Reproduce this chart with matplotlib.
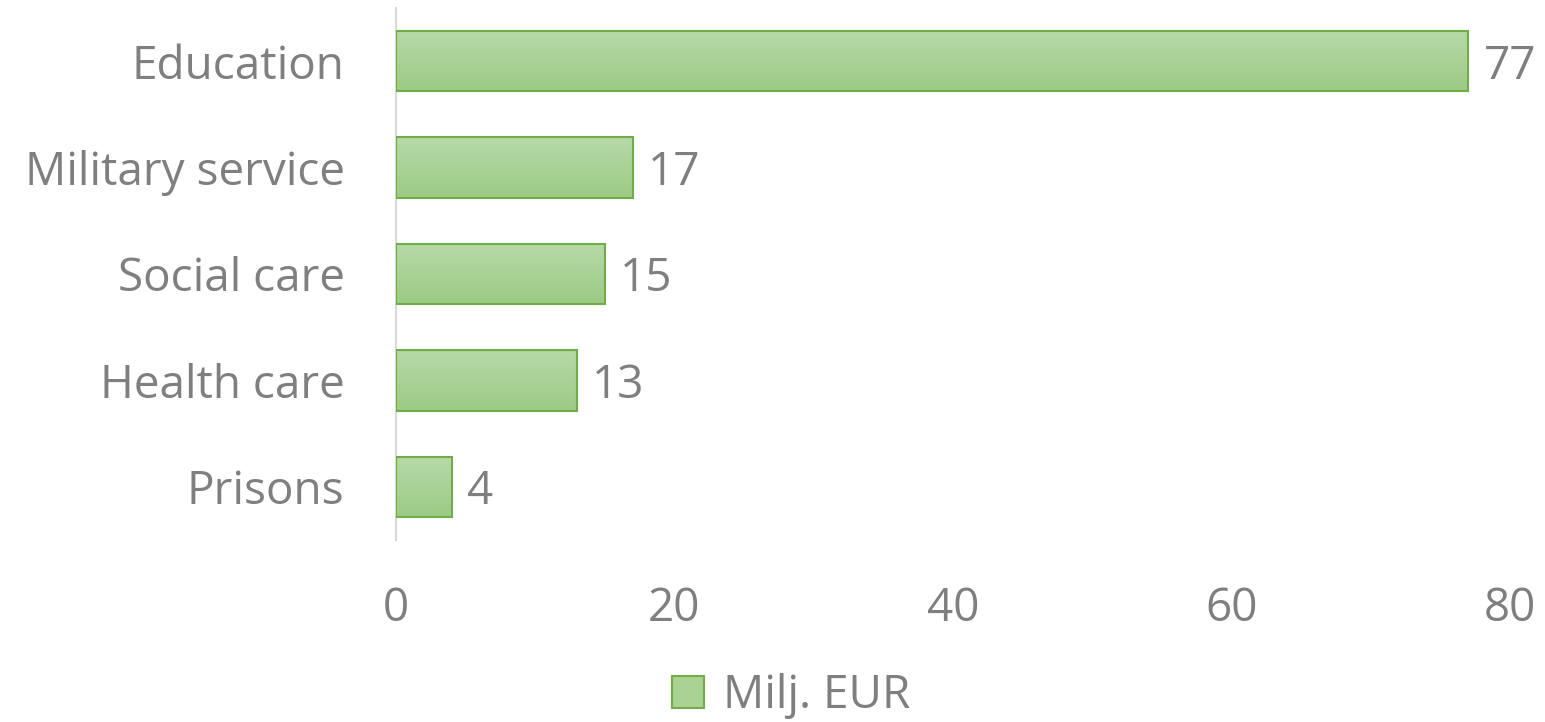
import numpy as np
import matplotlib.pyplot as plt
from matplotlib.colors import LinearSegmentedColormap
from matplotlib.patches import Patch

categories = ['Education', 'Military service', 'Social care', 'Health care', 'Prisons']
values = [77, 17, 15, 13, 4]
xticks = [0, 20, 40, 60, 80]
series_name = 'Milj. EUR'

plt.rcParams['font.family'] = ['Open Sans', 'DejaVu Sans']
grey = '#7f7f7f'
edge = '#70ad47'
grad = LinearSegmentedColormap.from_list('g', ['#9ccb85', '#b7d9a8'])
fs = 33

fig = plt.figure(figsize=(15.45, 7.22), dpi=100)
ax = fig.add_axes([0.2563, 0.252, 0.721, 0.737])

ypos = np.arange(len(categories))[::-1]
bars = ax.barh(ypos, values, height=0.57, color='none', edgecolor=edge, linewidth=1.5, zorder=3)

# gradient fill inside each bar
g = np.linspace(0, 1, 100).reshape(-1, 1)
for b in bars:
    x0, y0 = b.get_x(), b.get_y()
    ax.imshow(g, cmap=grad, aspect='auto', origin='lower',
              extent=[x0, x0 + b.get_width(), y0, y0 + b.get_height()], zorder=2)

for y, v in zip(ypos, values):
    ax.text(v + 1.1, y, str(v), va='center_baseline', ha='left', fontsize=fs, color=grey)

ax.set_xlim(0, 80)
ax.set_ylim(-0.5, len(categories) - 0.5)
ax.set_yticks(ypos)
ax.set_yticklabels(categories)
ax.set_xticks(xticks)
ax.tick_params(axis='both', length=0, labelsize=fs, colors=grey)
ax.tick_params(axis='y', pad=37)
ax.tick_params(axis='x', pad=33)
for s in ['top', 'right', 'bottom']:
    ax.spines[s].set_visible(False)
ax.spines['left'].set_color('#d9d9d9')
ax.spines['left'].set_linewidth(1.5)

handle = Patch(facecolor='#a9d293', edgecolor=edge, linewidth=1.5)
fig.legend([handle], [series_name], loc='center', bbox_to_anchor=(0.512, 0.036),
           frameon=False, fontsize=fs, labelcolor=grey, handlelength=0.7,
           handleheight=0.7, handletextpad=0.4)

fig.savefig('out.png', dpi=100)
